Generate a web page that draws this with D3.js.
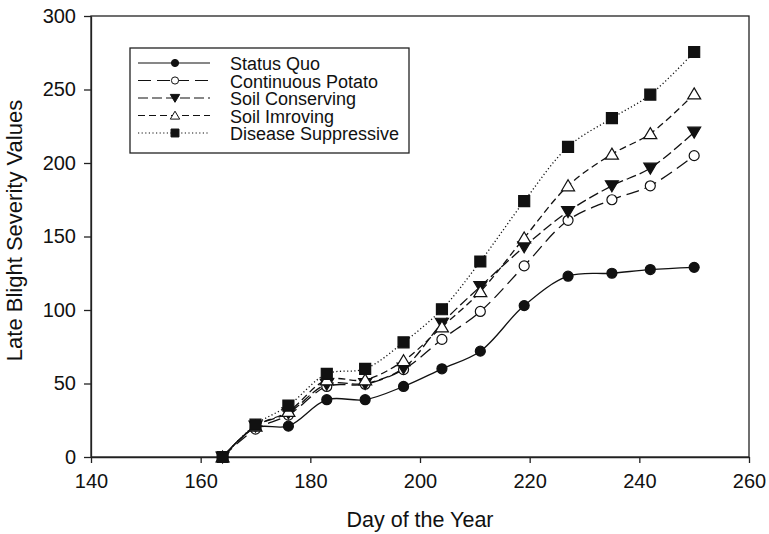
<!DOCTYPE html>
<html>
<head>
<meta charset="utf-8">
<script src="https://cdn.jsdelivr.net/npm/d3@7"></script>
<style>
  body { margin: 0; background: #fff; }
  text { font-family: "Liberation Sans", Arial, sans-serif; fill: #111; }
</style>
</head>
<body>
<svg id="chart" width="769" height="534"></svg>
<script>
// data
const days = [164, 170, 176, 183, 190, 197, 204, 211, 219, 227, 235, 242, 250];

const statusQuo = [0, 20, 21, 39, 39, 48, 60, 72, 103, 123, 125, 127.5, 129];
const continuousPotato = [0, 19, 28.5, 48, 49.5, 59.5, 80, 99, 130, 161, 175, 184.5, 205];
const soilConserving = [0, 21, 30, 49.5, 50, 60.5, 91, 116, 143, 167, 184.5, 196.5, 221];
const soilImroving = [0, 21, 31, 52.5, 52.5, 65.5, 88.5, 112.5, 149, 184.5, 206, 220, 247];
const diseaseSuppressive = [0, 22, 35, 56.5, 60, 78, 100.5, 133, 174, 211, 230.5, 246.5, 275.5];

const seriesNames = ["Status Quo", "Continuous Potato", "Soil Conserving", "Soil Imroving", "Disease Suppressive"];
const xTicks = [140, 160, 180, 200, 220, 240, 260];
const yTicks = [0, 50, 100, 150, 200, 250, 300];

const series = [
  { name: seriesNames[0], values: statusQuo, dash: null, marker: "circle", fill: "#111" },
  { name: seriesNames[1], values: continuousPotato, dash: "13,6", marker: "circle", fill: "#fff" },
  { name: seriesNames[2], values: soilConserving, dash: "10,4", marker: "down", fill: "#111" },
  { name: seriesNames[3], values: soilImroving, dash: "7,4", marker: "up", fill: "#fff" },
  { name: seriesNames[4], values: diseaseSuppressive, dash: "1.2,2.4", marker: "square", fill: "#111" }
];

const svg = d3.select("#chart");
const margin = { top: 16, right: 20, bottom: 77, left: 91 };
const width = 769 - margin.left - margin.right;
const height = 534 - margin.top - margin.bottom;

const g = svg.append("g").attr("transform", `translate(${margin.left},${margin.top})`);

const x = d3.scaleLinear().domain([140, 260]).range([0, width]);
const y = d3.scaleLinear().domain([0, 300]).range([height, 0]);

// axes
const xAxis = g.append("g")
  .attr("transform", `translate(0,${height})`)
  .call(d3.axisBottom(x).tickValues(xTicks).tickSize(6).tickSizeOuter(0).tickPadding(11));
const yAxis = g.append("g")
  .call(d3.axisLeft(y).tickValues(yTicks).tickSize(7).tickSizeOuter(0).tickPadding(8));

[xAxis, yAxis].forEach(a => {
  a.selectAll("path, line").attr("stroke", "#222").attr("stroke-width", 1.3);
  a.selectAll("text").style("font-size", "20px").attr("fill", "#111");
});

// frame
g.append("rect")
  .attr("width", width).attr("height", height)
  .attr("fill", "none").attr("stroke", "#222").attr("stroke-width", 1.3);

// axis titles
svg.append("text")
  .attr("x", margin.left + width / 2).attr("y", 527)
  .attr("text-anchor", "middle").style("font-size", "21.5px")
  .text("Day of the Year");
svg.append("text")
  .attr("transform", `translate(22,${margin.top + height / 2 - 6}) rotate(-90)`)
  .attr("text-anchor", "middle").style("font-size", "22px")
  .text("Late Blight Severity Values");

function markerPath(type, k) {
  const p = d3.path();
  if (type === "circle") {
    p.arc(0, 0, 5 * k, 0, 2 * Math.PI);
  } else if (type === "square") {
    p.rect(-5.5 * k, -5.5 * k, 11 * k, 11 * k);
  } else if (type === "up") {
    p.moveTo(0, -6 * k); p.lineTo(6.5 * k, 5 * k); p.lineTo(-6.5 * k, 5 * k); p.closePath();
  } else {
    p.moveTo(0, 6 * k); p.lineTo(6.5 * k, -5 * k); p.lineTo(-6.5 * k, -5 * k); p.closePath();
  }
  return p.toString();
}

const line = d3.line()
  .x((d, i) => x(days[i]))
  .y(d => y(d))
  .curve(d3.curveCatmullRom.alpha(0.5));

// lines first, then markers on top
series.forEach(s => {
  g.append("path")
    .datum(s.values)
    .attr("d", line)
    .attr("fill", "none")
    .attr("stroke", "#111")
    .attr("stroke-width", 1.3)
    .attr("stroke-dasharray", s.dash);
});

series.forEach(s => {
  g.append("g").selectAll("path")
    .data(s.values)
    .join("path")
    .attr("transform", (d, i) => `translate(${x(days[i])},${y(d)})`)
    .attr("d", markerPath(s.marker, 1))
    .attr("fill", s.fill)
    .attr("stroke", "#111")
    .attr("stroke-width", 1.2);
});

// legend
const legend = svg.append("g").attr("transform", "translate(130,48)");
legend.append("rect")
  .attr("width", 279).attr("height", 105)
  .attr("fill", "#fff").attr("stroke", "#222").attr("stroke-width", 1.3);

const rows = legend.selectAll("g.row")
  .data(series)
  .join("g")
  .attr("class", "row")
  .attr("transform", (d, i) => `translate(0,${15 + i * 17.5})`);

rows.append("line")
  .attr("x1", 8).attr("x2", 80)
  .attr("stroke", "#111").attr("stroke-width", 1.2)
  .attr("stroke-dasharray", d => d.dash);
rows.append("path")
  .attr("transform", "translate(45,0)")
  .attr("d", d => markerPath(d.marker, 0.72))
  .attr("fill", d => d.fill)
  .attr("stroke", "#111")
  .attr("stroke-width", 1);
rows.append("text")
  .attr("x", 100).attr("y", 7)
  .style("font-size", "18px")
  .text(d => d.name);
</script>
</body>
</html>
